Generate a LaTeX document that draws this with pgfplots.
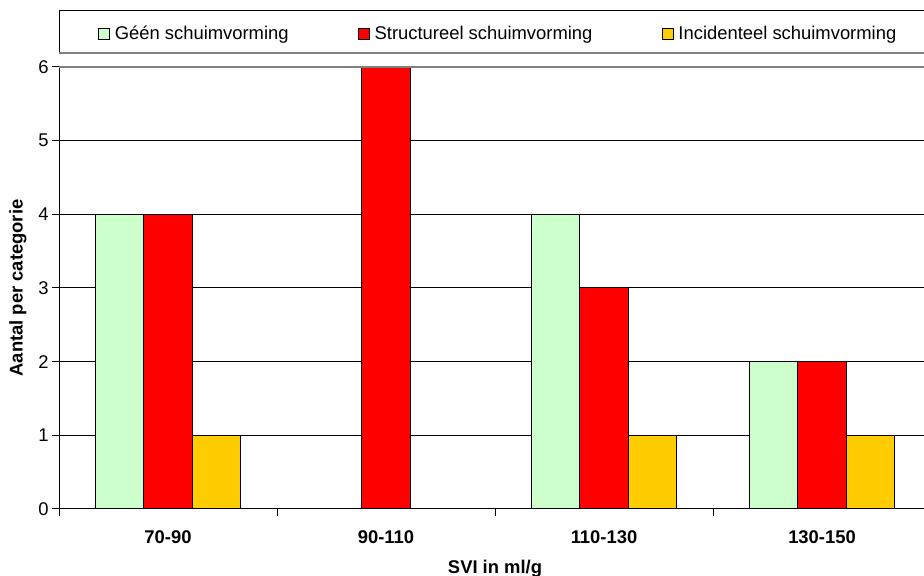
\documentclass[border=0pt]{standalone}
\usepackage{pgfplots}
\pgfplotsset{compat=1.18}
\usepackage{fontspec}
\setmainfont{Liberation Sans}

\definecolor{geen}{HTML}{CCFFCC}
\definecolor{struct}{HTML}{FF0000}
\definecolor{incid}{HTML}{FFCC00}
\definecolor{frame}{HTML}{808080}

\begin{document}
\fontsize{9.2pt}{11pt}\selectfont
\begin{tikzpicture}
% fixed page area; the plot area and legend frame run past the right edge
\path[use as bounding box] (-29.5pt,-33.5pt) rectangle (432.5pt,254.5pt);
\begin{axis}[
  at={(0pt,0pt)}, anchor=south west,
  scale only axis,
  width=436pt, height=221pt,
  xmin=-0.5, xmax=3.5,
  ymin=0, ymax=6,
  ybar=0pt, bar width=24.25pt,
  xtick={0,1,2,3},
  xticklabels={70-90,90-110,110-130,130-150},
  minor xtick={-0.5,0.5,1.5,2.5,3.5},
  major x tick style={draw=none},
  minor x tick style={black, line width=0.5pt},
  minor tick length=3.5pt,
  ytick={0,1,...,6},
  major tick length=3.5pt,
  tick align=outside,
  y tick style={black, line width=0.5pt},
  xticklabel style={font=\bfseries, inner sep=0pt, anchor=north, yshift=-7pt},
  yticklabel style={inner sep=0pt, anchor=east, xshift=-1.5pt},
  /pgf/number format/assume math mode=true,
  ymajorgrids,
  major grid style={black, line width=0.5pt},
  axis line style={black, line width=0.5pt},
  axis x line*=bottom, axis y line*=left,
  xlabel={SVI in ml/g},
  ylabel={Aantal per categorie},
  xlabel style={font=\bfseries, at={(rel axis cs:0.5,0)}, anchor=north, inner sep=0pt, yshift=-25.5pt},
  ylabel style={font=\bfseries, at={(axis description cs:-0.047,0.5)}, anchor=center, inner sep=0pt},
  legend columns=3,
  legend style={
    at={(19.5pt,237.5pt)}, anchor=west,
    draw=none, fill=none, inner sep=0pt,
    nodes={inner sep=0pt, anchor=west},
    column sep=2.2pt,
    /tikz/every even column/.append style={column sep=34.8pt},
  },
  legend image code/.code={\draw[#1, draw=black, line width=0.5pt] (0pt,-2.75pt) rectangle (5.5pt,2.75pt);},
  clip=false,
]
\addplot[fill=geen, draw=black, line width=0.5pt] coordinates {(0,4) (2,4) (3,2)};
\addplot[fill=struct, draw=black, line width=0.5pt] coordinates {(0,4) (1,6) (2,3) (3,2)};
\addplot[fill=incid, draw=black, line width=0.5pt] coordinates {(0,1) (2,1) (3,1)};
\legend{Géén schuimvorming, Structureel schuimvorming, Incidenteel schuimvorming}
% plot-area border along the top
\draw[frame, line width=1pt] (rel axis cs:0,1) -- (rel axis cs:1,1);
\end{axis}
% legend frame
\draw[black, line width=0.5pt] (438pt,249pt) -- (0pt,249pt) -- (0pt,228pt);
\draw[frame, line width=0.75pt] (0pt,228pt) -- (438pt,228pt);
\end{tikzpicture}
\end{document}
